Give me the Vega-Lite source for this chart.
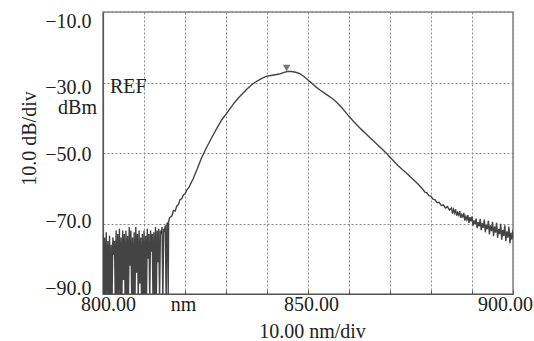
{
  "$schema": "https://vega.github.io/schema/vega-lite/v6.json",
  "autosize": "none",
  "width": 410,
  "height": 282,
  "padding": {"left": 103, "top": 12, "right": 21, "bottom": 47},
  "background": "white",
  "config": {
    "view": {"stroke": "#888", "strokeWidth": 1.6},
    "font": "Liberation Serif",
    "axis": {"labelFont": "Liberation Serif", "titleFont": "Liberation Serif", "labelFontSize": 20, "titleFontSize": 20, "labelColor": "#222", "titleColor": "#222", "titleFontWeight": "normal"}
  },
  "datasets": {
    "trace": [
      {"nm": 800.0, "dbm": -73}, {"nm": 800.2, "dbm": -92}, {"nm": 800.4, "dbm": -74}, {"nm": 800.6, "dbm": -92},
      {"nm": 800.8, "dbm": -72.5}, {"nm": 801.0, "dbm": -91}, {"nm": 801.2, "dbm": -75}, {"nm": 801.4, "dbm": -92},
      {"nm": 801.6, "dbm": -73.5}, {"nm": 801.8, "dbm": -92}, {"nm": 802.0, "dbm": -76}, {"nm": 802.2, "dbm": -92},
      {"nm": 802.4, "dbm": -74}, {"nm": 802.6, "dbm": -79}, {"nm": 802.8, "dbm": -75}, {"nm": 803.0, "dbm": -92},
      {"nm": 803.2, "dbm": -72}, {"nm": 803.4, "dbm": -92}, {"nm": 803.6, "dbm": -73}, {"nm": 803.8, "dbm": -90},
      {"nm": 804.0, "dbm": -71.5}, {"nm": 804.2, "dbm": -92}, {"nm": 804.4, "dbm": -74}, {"nm": 804.6, "dbm": -92},
      {"nm": 804.8, "dbm": -72}, {"nm": 805.0, "dbm": -86}, {"nm": 805.2, "dbm": -73}, {"nm": 805.4, "dbm": -92},
      {"nm": 805.6, "dbm": -72}, {"nm": 805.8, "dbm": -92}, {"nm": 806.0, "dbm": -73.5}, {"nm": 806.2, "dbm": -92},
      {"nm": 806.4, "dbm": -71}, {"nm": 806.6, "dbm": -82}, {"nm": 806.8, "dbm": -72}, {"nm": 807.0, "dbm": -92},
      {"nm": 807.2, "dbm": -74}, {"nm": 807.4, "dbm": -92}, {"nm": 807.6, "dbm": -72.5}, {"nm": 807.8, "dbm": -92},
      {"nm": 808.0, "dbm": -71}, {"nm": 808.2, "dbm": -84}, {"nm": 808.4, "dbm": -73}, {"nm": 808.6, "dbm": -92},
      {"nm": 808.8, "dbm": -72}, {"nm": 809.0, "dbm": -87}, {"nm": 809.2, "dbm": -74}, {"nm": 809.4, "dbm": -92},
      {"nm": 809.6, "dbm": -73}, {"nm": 809.8, "dbm": -92}, {"nm": 810.0, "dbm": -72}, {"nm": 810.2, "dbm": -92},
      {"nm": 810.4, "dbm": -73.5}, {"nm": 810.6, "dbm": -92}, {"nm": 810.8, "dbm": -71.5}, {"nm": 811.0, "dbm": -80},
      {"nm": 811.2, "dbm": -73}, {"nm": 811.4, "dbm": -92}, {"nm": 811.6, "dbm": -72}, {"nm": 811.8, "dbm": -78},
      {"nm": 812.0, "dbm": -73}, {"nm": 812.2, "dbm": -92}, {"nm": 812.4, "dbm": -72.5}, {"nm": 812.6, "dbm": -92},
      {"nm": 812.8, "dbm": -71}, {"nm": 813.0, "dbm": -92}, {"nm": 813.2, "dbm": -72}, {"nm": 813.4, "dbm": -81},
      {"nm": 813.6, "dbm": -71.5}, {"nm": 813.8, "dbm": -92}, {"nm": 814.0, "dbm": -72}, {"nm": 814.2, "dbm": -73},
      {"nm": 814.4, "dbm": -71}, {"nm": 814.6, "dbm": -92}, {"nm": 814.8, "dbm": -71.5}, {"nm": 815.0, "dbm": -72},
      {"nm": 815.2, "dbm": -70.5}, {"nm": 815.4, "dbm": -92}, {"nm": 815.6, "dbm": -70}, {"nm": 815.8, "dbm": -69.8},
      {"nm": 815.9, "dbm": -92}, {"nm": 816.0, "dbm": -69.5}, {"nm": 816.2, "dbm": -68.5},
      {"nm": 816.4, "dbm": -68.2}, {"nm": 816.8, "dbm": -67.8}, {"nm": 817.2, "dbm": -66.3}, {"nm": 817.6, "dbm": -66.5},
      {"nm": 818.0, "dbm": -65.0}, {"nm": 818.4, "dbm": -64.6}, {"nm": 818.8, "dbm": -63.2}, {"nm": 819.2, "dbm": -63.0},
      {"nm": 819.6, "dbm": -61.9}, {"nm": 820.0, "dbm": -61.6}, {"nm": 820.5, "dbm": -60.4}, {"nm": 821.0, "dbm": -59.7},
      {"nm": 821.5, "dbm": -58.4}, {"nm": 822.0, "dbm": -57.3},
      {"nm": 823, "dbm": -54.5}, {"nm": 824, "dbm": -51.5}, {"nm": 825, "dbm": -49.0}, {"nm": 826, "dbm": -46.8},
      {"nm": 827, "dbm": -44.6}, {"nm": 828, "dbm": -42.5}, {"nm": 829, "dbm": -40.5}, {"nm": 830, "dbm": -39.0},
      {"nm": 831, "dbm": -37.4}, {"nm": 832, "dbm": -35.8}, {"nm": 833, "dbm": -34.4}, {"nm": 834, "dbm": -33.2},
      {"nm": 835, "dbm": -32.0}, {"nm": 836, "dbm": -30.9}, {"nm": 837, "dbm": -30.0}, {"nm": 838, "dbm": -29.3},
      {"nm": 839, "dbm": -28.7}, {"nm": 840, "dbm": -28.2}, {"nm": 841, "dbm": -28.0}, {"nm": 842, "dbm": -27.8},
      {"nm": 843, "dbm": -27.6}, {"nm": 844, "dbm": -27.2}, {"nm": 845, "dbm": -26.9}, {"nm": 846, "dbm": -26.9},
      {"nm": 847, "dbm": -27.1}, {"nm": 848, "dbm": -27.5}, {"nm": 849, "dbm": -28.3}, {"nm": 850, "dbm": -29.3},
      {"nm": 851, "dbm": -30.3}, {"nm": 852, "dbm": -31.3}, {"nm": 853, "dbm": -32.2}, {"nm": 854, "dbm": -33.0},
      {"nm": 855, "dbm": -33.8}, {"nm": 856, "dbm": -34.6}, {"nm": 857, "dbm": -35.6}, {"nm": 858, "dbm": -36.8},
      {"nm": 859, "dbm": -38.2}, {"nm": 860, "dbm": -39.6}, {"nm": 861, "dbm": -40.9}, {"nm": 862, "dbm": -42.1},
      {"nm": 863, "dbm": -43.3}, {"nm": 864, "dbm": -44.4}, {"nm": 865, "dbm": -45.5}, {"nm": 866, "dbm": -46.6},
      {"nm": 867, "dbm": -47.7}, {"nm": 868, "dbm": -48.8}, {"nm": 869, "dbm": -49.9}, {"nm": 870, "dbm": -51.2},
      {"nm": 871, "dbm": -52.4}, {"nm": 872, "dbm": -53.6}, {"nm": 873, "dbm": -54.7}, {"nm": 874, "dbm": -55.7},
      {"nm": 875, "dbm": -56.8}, {"nm": 876, "dbm": -57.9}, {"nm": 877, "dbm": -59.0},
      {"nm": 878.0, "dbm": -60.3}, {"nm": 878.5, "dbm": -61.1}, {"nm": 879.0, "dbm": -61.3}, {"nm": 879.5, "dbm": -62.1},
      {"nm": 880.0, "dbm": -62.3}, {"nm": 880.5, "dbm": -63.1}, {"nm": 881.0, "dbm": -63.3}, {"nm": 881.5, "dbm": -64.1},
      {"nm": 882.0, "dbm": -64.0}, {"nm": 882.5, "dbm": -64.9}, {"nm": 883.0, "dbm": -64.7}, {"nm": 883.5, "dbm": -65.6},
      {"nm": 884.0, "dbm": -65.2}, {"nm": 884.5, "dbm": -66.2}, {"nm": 885.0, "dbm": -65.6}, {"nm": 885.25, "dbm": -67.2},
      {"nm": 885.5, "dbm": -66.0}, {"nm": 885.75, "dbm": -67.0}, {"nm": 886.0, "dbm": -66.0}, {"nm": 886.25, "dbm": -67.8},
      {"nm": 886.5, "dbm": -66.9}, {"nm": 886.75, "dbm": -67.6}, {"nm": 887.0, "dbm": -66.5}, {"nm": 887.25, "dbm": -68.4},
      {"nm": 887.5, "dbm": -67.5}, {"nm": 887.75, "dbm": -68.1}, {"nm": 888.0, "dbm": -67.0}, {"nm": 888.25, "dbm": -69.2},
      {"nm": 888.5, "dbm": -68.0}, {"nm": 888.75, "dbm": -68.9}, {"nm": 889.0, "dbm": -67.6}, {"nm": 889.25, "dbm": -69.8},
      {"nm": 889.5, "dbm": -68.2}, {"nm": 889.75, "dbm": -69.4}, {"nm": 890.0, "dbm": -68.0}, {"nm": 890.25, "dbm": -70.6},
      {"nm": 890.5, "dbm": -69.1}, {"nm": 890.75, "dbm": -70.2}, {"nm": 891.0, "dbm": -68.6}, {"nm": 891.25, "dbm": -71.3},
      {"nm": 891.5, "dbm": -69.6}, {"nm": 891.75, "dbm": -70.8}, {"nm": 892.0, "dbm": -68.7}, {"nm": 892.25, "dbm": -71.9},
      {"nm": 892.5, "dbm": -69.9}, {"nm": 892.75, "dbm": -71.2}, {"nm": 893.0, "dbm": -68.9}, {"nm": 893.25, "dbm": -72.5},
      {"nm": 893.5, "dbm": -70.3}, {"nm": 893.75, "dbm": -71.6}, {"nm": 894.0, "dbm": -69.2}, {"nm": 894.25, "dbm": -73.1},
      {"nm": 894.5, "dbm": -70.5}, {"nm": 894.75, "dbm": -72.2}, {"nm": 895.0, "dbm": -69.5}, {"nm": 895.25, "dbm": -73.6},
      {"nm": 895.5, "dbm": -70.9}, {"nm": 895.75, "dbm": -72.6}, {"nm": 896.0, "dbm": -69.8}, {"nm": 896.25, "dbm": -74.0},
      {"nm": 896.5, "dbm": -71.6}, {"nm": 896.75, "dbm": -73.0}, {"nm": 897.0, "dbm": -70.1}, {"nm": 897.25, "dbm": -74.6},
      {"nm": 897.5, "dbm": -71.8}, {"nm": 897.75, "dbm": -73.5}, {"nm": 898.0, "dbm": -70.5}, {"nm": 898.25, "dbm": -75.0},
      {"nm": 898.5, "dbm": -72.2}, {"nm": 898.75, "dbm": -74.0}, {"nm": 899.0, "dbm": -70.9}, {"nm": 899.25, "dbm": -75.6},
      {"nm": 899.5, "dbm": -72.6}, {"nm": 899.75, "dbm": -74.6}, {"nm": 900.0, "dbm": -71.8}
    ],
    "marker": [{"nm": 844.8, "dbm": -25.9}],
    "notes": [
      {"nm": 801.7, "dbm": -33.0, "text": "REF", "side": "in"},
      {"nm": 800.0, "dbm": -38.8, "text": "dBm", "side": "out"}
    ]
  },
  "layer": [
    {
      "data": {"name": "trace"},
      "mark": {"type": "line", "color": "#444", "strokeWidth": 1.4, "clip": true},
      "encoding": {
        "x": {
          "field": "nm", "type": "quantitative",
          "scale": {"domain": [800, 900], "nice": false, "zero": false},
          "axis": {
            "title": "10.00 nm/div",
            "values": [800, 810, 820, 830, 840, 850, 860, 870, 880, 890, 900],
            "labelExpr": "datum.value == 800 ? '800.00' : datum.value == 820 ? 'nm' : datum.value == 850 ? '850.00' : datum.value == 900 ? '900.00' : ''",
            "labelOffset": {"expr": "datum.value == 800 ? 5 : datum.value == 820 ? -2 : datum.value == 850 ? 3 : datum.value == 900 ? -8 : 0"},
            "labelOverlap": false, "labelFlush": false, "labelBound": false,
            "labelPadding": 4,
            "grid": true, "gridDash": [2, 2], "gridColor": "#888", "gridWidth": 1, "gridOpacity": 1,
            "domainColor": "#555", "domainWidth": 1.2,
            "ticks": true, "tickSize": -4, "tickColor": "#555",
            "titleX": 209, "titleY": 43, "titleBaseline": "alphabetic", "titleAlign": "center"
          }
        },
        "y": {
          "field": "dbm", "type": "quantitative",
          "scale": {"domain": [-90, -10], "nice": false, "zero": false},
          "axis": {
            "title": "10.0 dB/div",
            "values": [-10, -20, -30, -40, -50, -60, -70, -80, -90],
            "labelExpr": "datum.value % 20 != 0 ? '−' + format(abs(datum.value), '.1f') : ''",
            "labelOffset": {"expr": "9 + (datum.value + 10) * 0.1875"},
            "labelOverlap": false, "labelFlush": false, "labelBound": false,
            "labelPadding": 12,
            "grid": true, "gridDash": [2, 2], "gridColor": "#888", "gridWidth": 1, "gridOpacity": 1,
            "domainColor": "#555", "domainWidth": 1.2,
            "ticks": false,
            "titleAngle": -90, "titleX": -68, "titleY": 126, "titleBaseline": "alphabetic", "titleAlign": "center"
          }
        }
      }
    },
    {
      "data": {"name": "marker"},
      "mark": {"type": "point", "shape": "triangle-down", "filled": true, "color": "#777", "size": 55, "opacity": 1},
      "encoding": {
        "x": {"field": "nm", "type": "quantitative"},
        "y": {"field": "dbm", "type": "quantitative"}
      }
    },
    {
      "data": {"name": "notes"},
      "transform": [{"filter": "datum.side == 'in'"}],
      "mark": {"type": "text", "align": "left", "baseline": "alphabetic", "font": "Liberation Serif", "fontSize": 20, "color": "#222"},
      "encoding": {
        "x": {"field": "nm", "type": "quantitative"},
        "y": {"field": "dbm", "type": "quantitative"},
        "text": {"field": "text"}
      }
    },
    {
      "data": {"name": "notes"},
      "transform": [{"filter": "datum.side == 'out'"}],
      "mark": {"type": "text", "align": "right", "baseline": "alphabetic", "dx": -6, "font": "Liberation Serif", "fontSize": 20, "color": "#222"},
      "encoding": {
        "x": {"field": "nm", "type": "quantitative"},
        "y": {"field": "dbm", "type": "quantitative"},
        "text": {"field": "text"}
      }
    }
  ]
}
